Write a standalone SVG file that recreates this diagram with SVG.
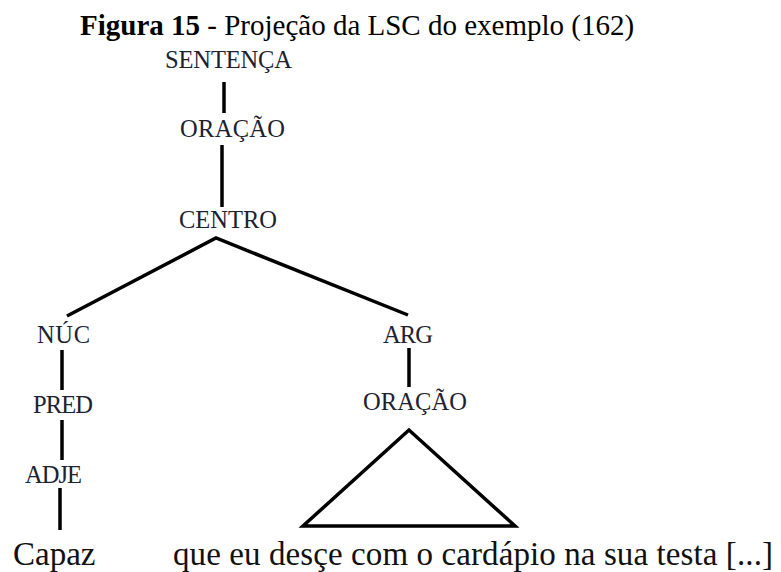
<svg xmlns="http://www.w3.org/2000/svg" width="781" height="572" viewBox="0 0 781 572">
  <style>
    .title { font-family: "Liberation Serif", "Times New Roman", serif; font-size: 29px; fill: #000; }
    .lbl { font-family: "Liberation Serif", "Times New Roman", serif; font-size: 24.5px; fill: #1c2230; }
    .word { font-family: "Liberation Serif", "Times New Roman", serif; font-size: 33px; fill: #111; }
    .edge { stroke: #000; stroke-width: 3.5; fill: none; stroke-linecap: butt; stroke-linejoin: miter; }
  </style>
  <rect width="781" height="572" fill="#fff"/>
  <g id="title">
    <text class="title" x="80" y="35"><tspan font-weight="bold">Figura 15</tspan> - Projeção da LSC do exemplo (162)</text>
  </g>
  <g id="connectors">
    <line class="edge" x1="224" y1="82" x2="224" y2="113"/>
    <line class="edge" x1="222" y1="145" x2="222" y2="207"/>
    <polyline class="edge" points="67,316 216,238 408,315"/>
    <line class="edge" x1="62" y1="350" x2="62" y2="390"/>
    <line class="edge" x1="62" y1="420" x2="62" y2="460"/>
    <line class="edge" x1="60" y1="488" x2="60" y2="530"/>
    <line class="edge" x1="409" y1="348" x2="409" y2="387"/>
    <polygon class="edge" points="409,430 303,526 515,526"/>
  </g>
  <g id="n-sentenca"><text class="lbl" x="165" y="68" textLength="127">SENTENÇA</text></g>
  <g id="n-oracao1"><text class="lbl" x="180" y="137" textLength="105">ORAÇÃO</text></g>
  <g id="n-centro"><text class="lbl" x="179" y="228" textLength="98">CENTRO</text></g>
  <g id="n-nuc"><text class="lbl" x="37" y="343" textLength="53">NÚC</text></g>
  <g id="n-pred"><text class="lbl" x="33" y="413" textLength="60">PRED</text></g>
  <g id="n-adje"><text class="lbl" x="25" y="483" textLength="57">ADJE</text></g>
  <g id="n-arg"><text class="lbl" x="383" y="343" textLength="50">ARG</text></g>
  <g id="n-oracao2"><text class="lbl" x="363" y="410" textLength="104">ORAÇÃO</text></g>
  <g id="w-capaz"><text class="word" x="13" y="565">Capaz</text></g>
  <g id="w-clause"><text class="word" x="173" y="565" textLength="600">que eu desçe com o cardápio na sua testa [...]</text></g>
</svg>
